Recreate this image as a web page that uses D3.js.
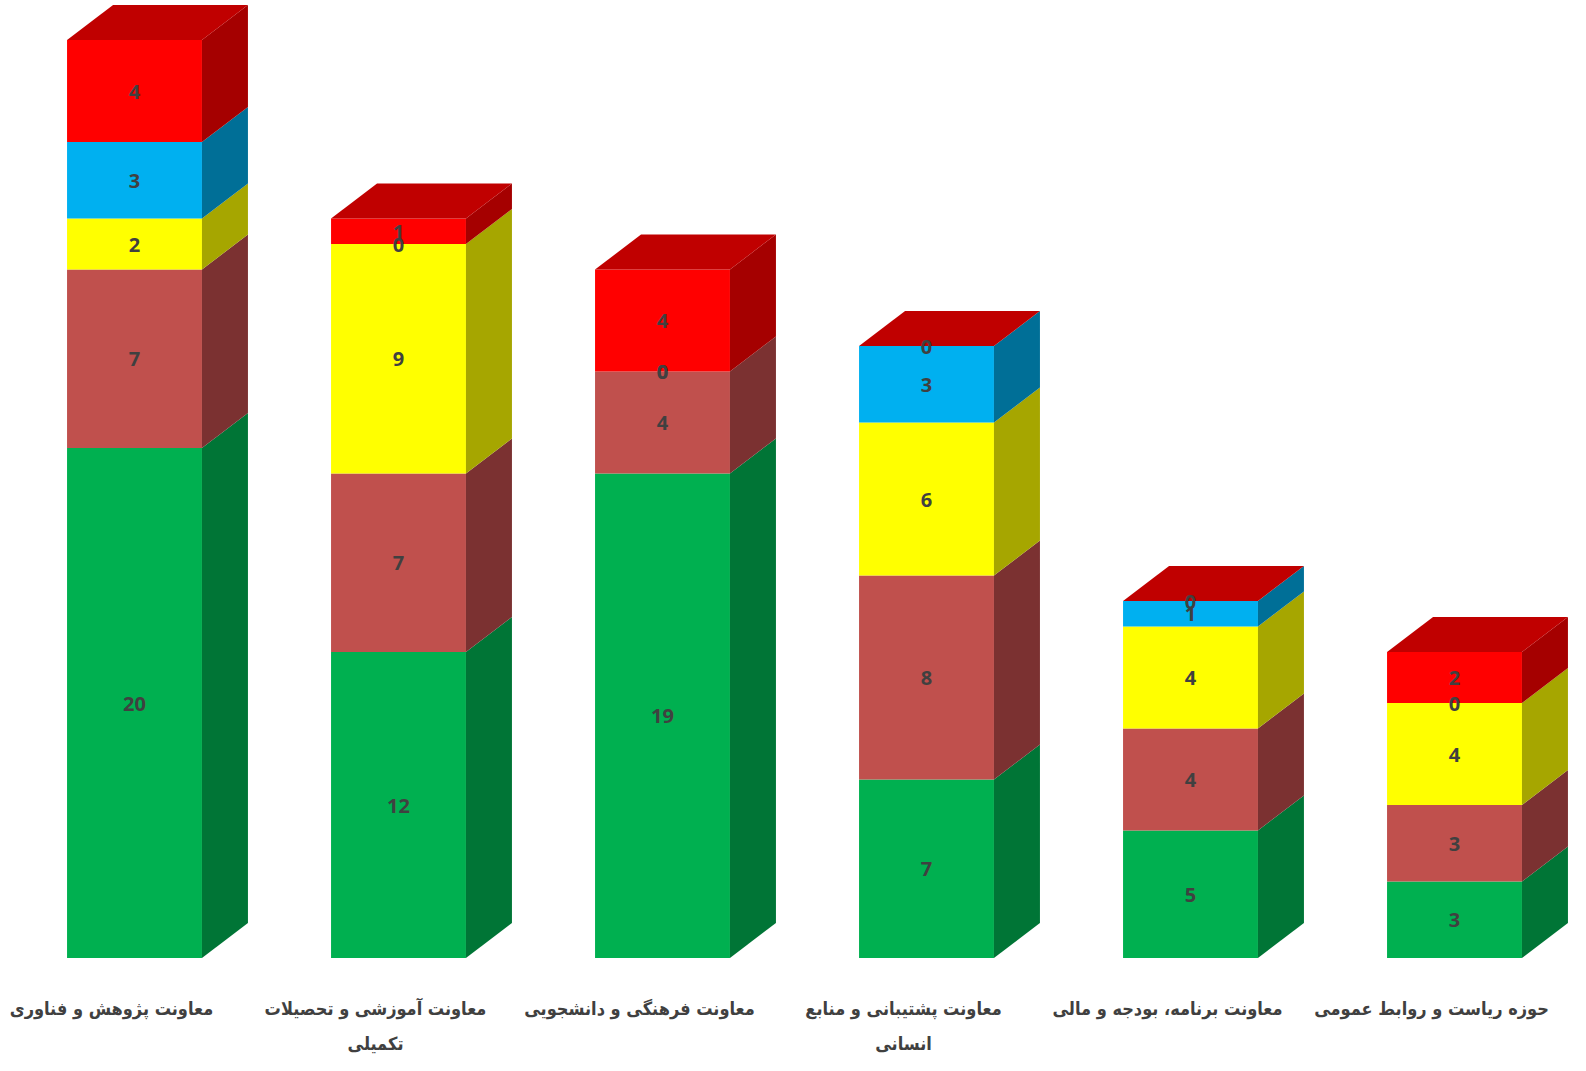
<!DOCTYPE html>
<html><head><meta charset="utf-8">
<script src="https://cdn.jsdelivr.net/npm/d3@7"></script>
<style>html,body{margin:0;padding:0;background:#fff;overflow:hidden;}svg{display:block;}</style>
</head><body>
<svg id="chart" width="1586" height="1071"></svg>
<script>
// "\n" marks where the reference wraps a category label
const categories = [
  "معاونت پژوهش و فناوری",
  "معاونت آموزشی و تحصیلات\nتکمیلی",
  "معاونت فرهنگی و دانشجویی",
  "معاونت پشتیبانی و منابع\nانسانی",
  "معاونت برنامه، بودجه و مالی",
  "حوزه ریاست و روابط عمومی"
];
const seriesGreen  = [20, 12, 19, 7, 5, 3];
const seriesBrown  = [7, 7, 4, 8, 4, 3];
const seriesYellow = [2, 9, 0, 6, 4, 4];
const seriesBlue   = [3, 0, 0, 3, 1, 0];
const seriesRed    = [4, 1, 4, 0, 0, 2];
const seriesValues = [seriesGreen, seriesBrown, seriesYellow, seriesBlue, seriesRed];
const frontColors = ["#00B050", "#C0504D", "#FFFF00", "#00B0F0", "#FF0000"];
const sideColors  = ["#007536", "#7B3131", "#A6A600", "#006F97", "#A50000"];
const topColor = "#C00000";

const svg = d3.select("#chart");
const dx = 46, dy = 35;
const baseY = 958;

const x = d3.scaleBand().domain(d3.range(categories.length))
  .range([2.5, 1586.5]).paddingInner(0.489).paddingOuter(0.2445);
const totals = categories.map((c, i) => d3.sum(seriesValues, s => s[i]));
const y = d3.scaleLinear().domain([0, d3.max(totals)]).range([baseY, 40]);

const rows = categories.map((c, i) => {
  const o = {i};
  seriesValues.forEach((s, k) => o["s" + k] = s[i]);
  return o;
});
const stack = d3.stack().keys(seriesValues.map((s, k) => "s" + k))(rows);

const bw = x.bandwidth();
const gBars = svg.append("g");
const pts = a => a.map(p => p.join(",")).join(" ");
categories.forEach((c, i) => {
  const g = gBars.append("g");
  const x0 = x(i);
  stack.forEach((layer, k) => {
    const d = layer[i];
    const yb = y(d[0]), yt = y(d[1]);
    if (yb - yt > 0) {
      g.append("rect").attr("x", x0).attr("y", yt).attr("width", bw).attr("height", yb - yt)
        .attr("fill", frontColors[k]);
      g.append("polygon")
        .attr("points", pts([[x0 + bw, yb], [x0 + bw + dx, yb - dy], [x0 + bw + dx, yt - dy], [x0 + bw, yt]]))
        .attr("fill", sideColors[k]);
    }
  });
  const ytop = y(totals[i]);
  g.append("polygon")
    .attr("points", pts([[x0, ytop], [x0 + dx, ytop - dy], [x0 + bw + dx, ytop - dy], [x0 + bw, ytop]]))
    .attr("fill", topColor);
});

// value labels
const gLab = svg.append("g");
stack.forEach((layer, k) => {
  layer.forEach((d, i) => {
    gLab.append("text")
      .attr("x", x(i) + bw / 2)
      .attr("y", (y(d[0]) + y(d[1])) / 2)
      .attr("text-anchor", "middle")
      .attr("dominant-baseline", "central")
      .attr("font-family", "'Open Sans', sans-serif")
      .attr("font-weight", "bold")
      .attr("font-size", 20)
      .attr("fill", "#404040")
      .text(seriesValues[k][i]);
  });
});

// category labels
const gCat = svg.append("g");
categories.forEach((c, i) => {
  const cx = x(i) + bw / 2 - 23;
  const t = gCat.append("text")
    .attr("x", cx)
    .attr("y", 1008)
    .attr("text-anchor", "middle")
    .attr("dominant-baseline", "central")
    .attr("direction", "rtl")
    .attr("font-family", "'DejaVu Sans Condensed', 'DejaVu Sans', sans-serif")
    .attr("font-weight", "bold")
    .attr("font-size", 18)
    .attr("fill", "#404040");
  c.split("\n").forEach((ln, j) => {
    t.append("tspan").attr("x", cx).attr("dy", j === 0 ? 0 : 35).text(ln);
  });
});
</script>
</body></html>
